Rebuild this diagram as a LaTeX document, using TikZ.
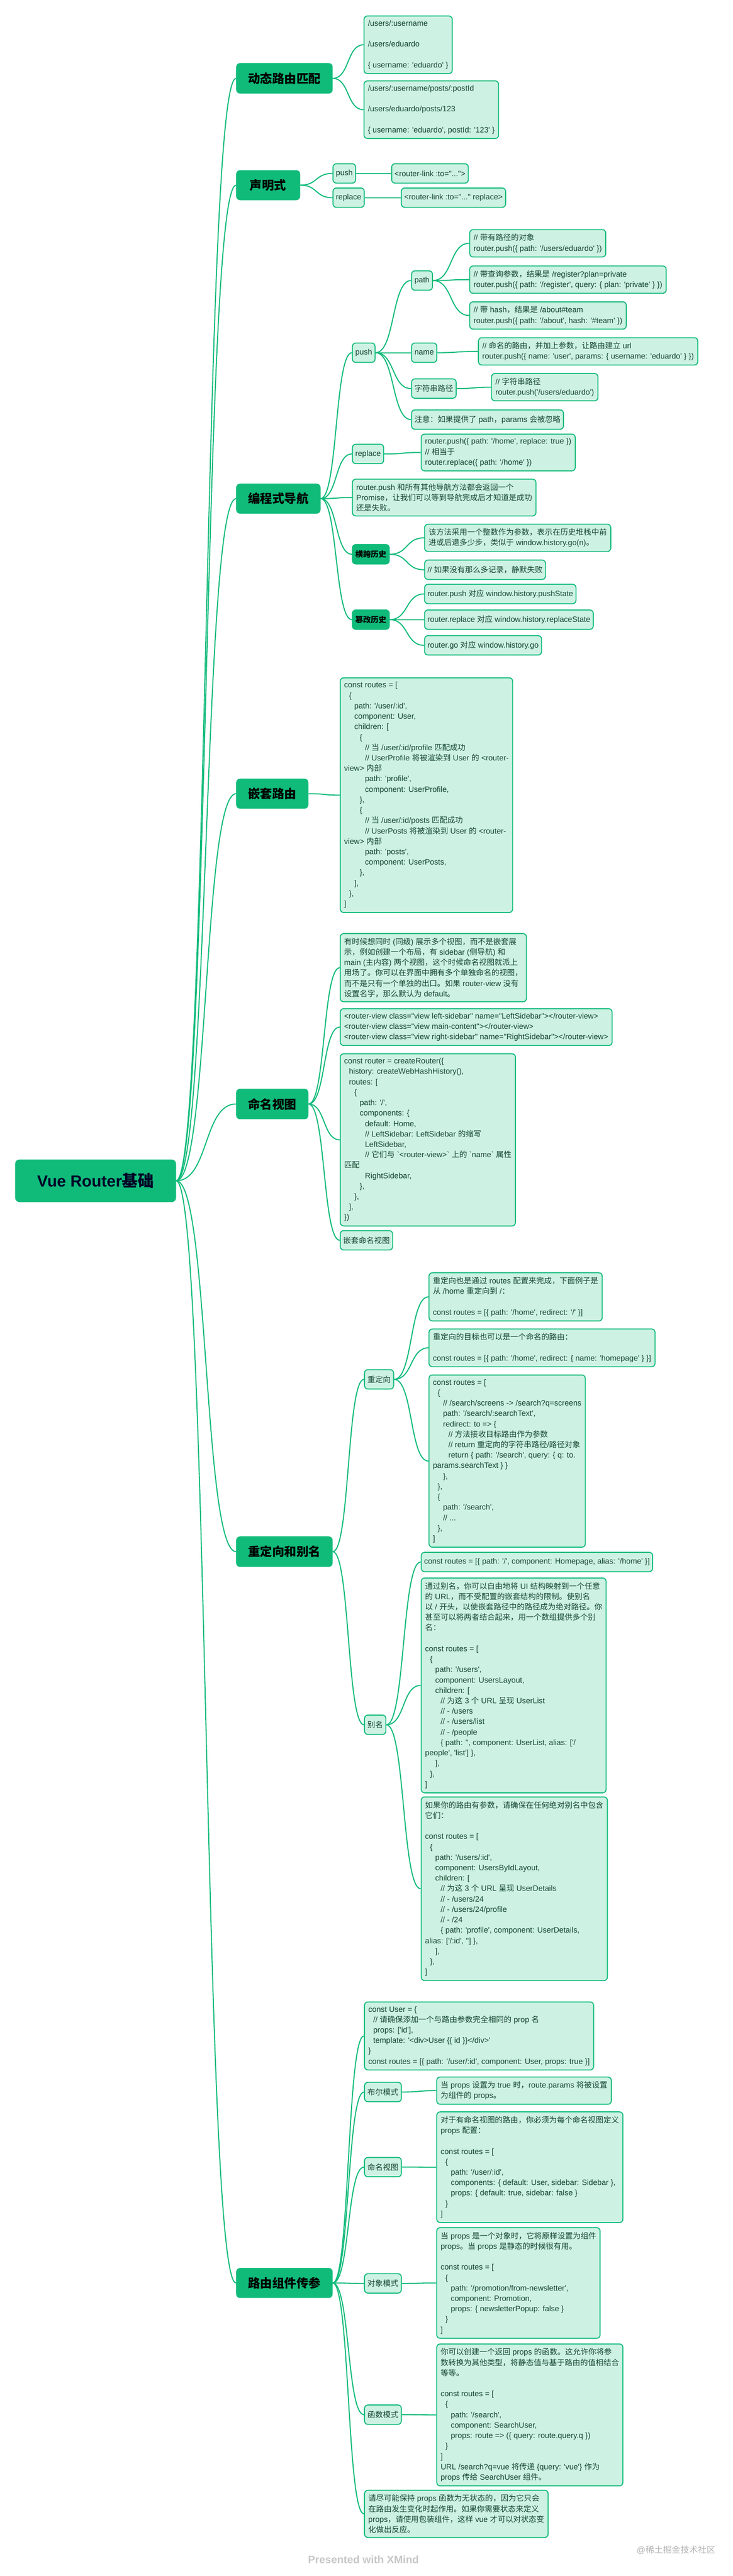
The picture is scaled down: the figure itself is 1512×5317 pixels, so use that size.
\documentclass[tikz,border=0pt]{standalone}
\usepackage{fontspec}
\setmainfont{Liberation Sans}[Ligatures=TeXOff]
\newfontfamily\latinf{Liberation Sans}[Ligatures=TeXOff]
\newfontfamily\cjkf{Noto Sans CJK SC}[Scale=1.0]
\usetikzlibrary{calc}
\XeTeXinterchartokenstate=1
\newXeTeXintercharclass\CJKcls
\newcount\mycnt
\newcommand\setcjkrange[2]{\mycnt=#1\relax\loop\XeTeXcharclass\mycnt=\CJKcls\relax\ifnum\mycnt<#2\relax\advance\mycnt by 1\relax\repeat}
\setcjkrange{"4E00}{"9FFF}
\setcjkrange{"3000}{"303F}
\setcjkrange{"FF00}{"FFEF}
\XeTeXinterchartoks 0 \CJKcls = {\cjkf}
\XeTeXinterchartoks 4095 \CJKcls = {\cjkf}
\XeTeXinterchartoks \CJKcls 0 = {\latinf}
\XeTeXinterchartoks \CJKcls 4095 = {\latinf}
\definecolor{mgreen}{HTML}{10BB7A}
\definecolor{lgreen}{HTML}{CDF2E3}
\definecolor{tgreen}{HTML}{15452F}
\newcommand\I[1]{\hspace*{#1pt}}
\newcommand\conn[2]{\draw[edge] let \p1=(#1.east),\p2=(#2.west),\n1={0.55*(\x2-\x1)} in (\p1) .. controls +(\n1,0) and +(-\n1,0) .. (\p2);}
\begin{document}
\begin{tikzpicture}[x=1pt,y=-1pt,
  edge/.style={draw=mgreen,line width=2.2pt},
  root/.style={fill=mgreen,rounded corners=9pt,anchor=north west,text=black!85!blue,font=\fontsize{33}{38}\selectfont\bfseries},
  main/.style={fill=mgreen,rounded corners=8pt,anchor=north west,text=black,font=\fontsize{25}{28}\selectfont\bfseries},
  sub/.style={fill=mgreen,draw=mgreen,line width=2pt,rounded corners=7pt,anchor=north west,text=black,minimum height=40pt,inner xsep=6pt,font=\fontsize{16}{21.5}\selectfont\bfseries},
  box/.style={fill=lgreen,draw=mgreen,line width=2pt,rounded corners=7pt,anchor=north west,align=left,text=tgreen,inner xsep=8pt,inner ysep=9pt,font=\fontsize{16}{21.5}\selectfont},
  lab/.style={box,minimum height=40pt,inner xsep=6pt,inner ysep=4pt}]
\useasboundingbox (0,0) rectangle (1512,5317);
\fill[white] (0,0) rectangle (1512,5317);

\node[root,minimum width=332pt,minimum height=88pt] (root) at (31,2393) {Vue Router基础};

\node[main,minimum width=199pt,minimum height=63pt] (m1) at (487,130) {动态路由匹配};
\node[main,minimum width=132pt,minimum height=62pt] (m2) at (487,351) {声明式};
\node[main,minimum width=174pt,minimum height=62pt] (m3) at (487,998) {编程式导航};
\node[main,minimum width=149pt,minimum height=62pt] (m4) at (487,1607) {嵌套路由};
\node[main,minimum width=149pt,minimum height=63pt] (m5) at (487,2247) {命名视图};
\node[main,minimum width=199pt,minimum height=63pt] (m6) at (487,3171) {重定向和别名};
\node[main,minimum width=199pt,minimum height=62pt] (m7) at (487,4681) {路由组件传参};
\foreach \m in {m1,m2,m3,m4,m5,m6,m7} {\conn{root}{\m}}

% 动态路由匹配
\node[box] (d1) at (750,32) {/users/:username\\~\\/users/eduardo\\~\\\{ username: 'eduardo' \}};
\node[box] (d2) at (750,166) {/users/:username/posts/:postId\\~\\/users/eduardo/posts/123\\~\\\{ username: 'eduardo', postId: '123' \}};
\conn{m1}{d1}\conn{m1}{d2}

% 声明式
\node[lab] (sp) at (686,337) {push};
\node[lab] (spb) at (807,337) {<router-link :to="...">};
\node[lab] (sr) at (686,387) {replace};
\node[lab] (srb) at (827,387) {<router-link :to="..." replace>};
\conn{m2}{sp}\conn{m2}{sr}\conn{sp}{spb}\conn{sr}{srb}

% 编程式导航
\node[lab] (pp) at (726,707) {push};
\node[lab] (ppath) at (848,558) {path};
\node[box] (pb1) at (968,473) {// 带有路径的对象\\router.push(\{ path: '/users/eduardo' \})};
\node[box] (pb2) at (968,548) {// 带查询参数，结果是 /register?plan=private\\router.push(\{ path: '/register', query: \{ plan: 'private' \} \})};
\node[box] (pb3) at (968,622) {// 带 hash，结果是 /about\#team\\router.push(\{ path: '/about', hash: '\#team' \})};
\node[lab] (pname) at (848,707) {name};
\node[box] (pnb) at (986,696) {// 命名的路由，并加上参数，让路由建立 url\\router.push(\{ name: 'user', params: \{ username: 'eduardo' \} \})};
\node[lab] (pstr) at (848,781) {字符串路径};
\node[box] (psb) at (1013,770) {// 字符串路径\\router.push('/users/eduardo')};
\node[lab] (pnote) at (848,845) {注意：如果提供了 path，params 会被忽略};
\node[lab] (prep) at (726,916) {replace};
\node[box] (prb) at (868,895) {router.push(\{ path: '/home', replace: true \})\\// 相当于\\router.replace(\{ path: '/home' \})};
\node[box] (ppro) at (726,988) {router.push 和所有其他导航方法都会返回一个\\Promise，让我们可以等到导航完成后才知道是成功\\还是失败。};
\node[sub] (pgo) at (726,1123) {横跨历史};
\node[box] (pgb1) at (875,1081) {该方法采用一个整数作为参数，表示在历史堆栈中前\\进或后退多少步，类似于 window.history.go(n)。};
\node[lab] (pgb2) at (875,1155) {// 如果没有那么多记录，静默失败};
\node[sub] (pt) at (726,1258) {篡改历史};
\node[lab] (ptb1) at (875,1205) {router.push 对应 window.history.pushState};
\node[lab] (ptb2) at (875,1258) {router.replace 对应 window.history.replaceState};
\node[lab] (ptb3) at (875,1311) {router.go 对应 window.history.go};
\foreach \c in {pp,prep,ppro,pgo,pt} {\conn{m3}{\c}}
\foreach \c in {ppath,pname,pstr,pnote} {\conn{pp}{\c}}
\foreach \c in {pb1,pb2,pb3} {\conn{ppath}{\c}}
\conn{pname}{pnb}\conn{pstr}{psb}\conn{prep}{prb}
\conn{pgo}{pgb1}\conn{pgo}{pgb2}
\foreach \c in {ptb1,ptb2,ptb3} {\conn{pt}{\c}}

% 嵌套路由
\node[box] (nb) at (701,1398) {const routes = [\\\I{10}\{\\\I{21}path: '/user/:id',\\\I{21}component: User,\\\I{21}children: [\\\I{32}\{\\\I{43}// 当 /user/:id/profile 匹配成功\\\I{43}// UserProfile 将被渲染到 User 的 <router-\\view> 内部\\\I{43}path: 'profile',\\\I{43}component: UserProfile,\\\I{32}\},\\\I{32}\{\\\I{43}// 当 /user/:id/posts 匹配成功\\\I{43}// UserPosts 将被渲染到 User 的 <router-\\view> 内部\\\I{43}path: 'posts',\\\I{43}component: UserPosts,\\\I{32}\},\\\I{21}],\\\I{10}\},\\]};
\conn{m4}{nb}

% 命名视图
\node[box] (nv1) at (701,1926) {有时候想同时 (同级) 展示多个视图，而不是嵌套展\\示，例如创建一个布局，有 sidebar (侧导航) 和\\main (主内容) 两个视图，这个时候命名视图就派上\\用场了。你可以在界面中拥有多个单独命名的视图，\\而不是只有一个单独的出口。如果 router-view 没有\\设置名字，那么默认为 default。};
\node[box] (nv2) at (701,2081) {<router-view class="view left-sidebar" name="LeftSidebar"></router-view>\\<router-view class="view main-content"></router-view>\\<router-view class="view right-sidebar" name="RightSidebar"></router-view>};
\node[box] (nv3) at (701,2174) {const router = createRouter(\{\\\I{10}history: createWebHashHistory(),\\\I{10}routes: [\\\I{21}\{\\\I{32}path: '/',\\\I{32}components: \{\\\I{43}default: Home,\\\I{43}// LeftSidebar: LeftSidebar 的缩写\\\I{43}LeftSidebar,\\\I{43}// 它们与 `<router-view>` 上的 `name` 属性\\匹配\\\I{43}RightSidebar,\\\I{32}\},\\\I{21}\},\\\I{10}],\\\})};
\node[lab] (nv4) at (701,2539) {嵌套命名视图};
\foreach \c in {nv1,nv2,nv3,nv4} {\conn{m5}{\c}}

% 重定向和别名
\node[lab] (rl) at (751,2826) {重定向};
\node[box] (rb1) at (884,2626) {重定向也是通过 routes 配置来完成，下面例子是\\从 /home 重定向到 /：\\~\\const routes = [\{ path: '/home', redirect: '/' \}]};
\node[box] (rb2) at (884,2742) {重定向的目标也可以是一个命名的路由：\\~\\const routes = [\{ path: '/home', redirect: \{ name: 'homepage' \} \}]};
\node[box] (rb3) at (884,2837) {const routes = [\\\I{10}\{\\\I{21}// /search/screens -> /search?q=screens\\\I{21}path: '/search/:searchText',\\\I{21}redirect: to => \{\\\I{32}// 方法接收目标路由作为参数\\\I{32}// return 重定向的字符串路径/路径对象\\\I{32}return \{ path: '/search', query: \{ q: to.\\params.searchText \} \}\\\I{21}\},\\\I{10}\},\\\I{10}\{\\\I{21}path: '/search',\\\I{21}// ...\\\I{10}\},\\]};
\node[lab] (al) at (751,3539) {别名};
\node[lab] (ab1) at (868,3203) {const routes = [\{ path: '/', component: Homepage, alias: '/home' \}]};
\node[box] (ab2) at (868,3256) {通过别名，你可以自由地将 UI 结构映射到一个任意\\的 URL，而不受配置的嵌套结构的限制。使别名\\以 / 开头，以使嵌套路径中的路径成为绝对路径。你\\甚至可以将两者结合起来，用一个数组提供多个别\\名：\\~\\const routes = [\\\I{10}\{\\\I{21}path: '/users',\\\I{21}component: UsersLayout,\\\I{21}children: [\\\I{32}// 为这 3 个 URL 呈现 UserList\\\I{32}// - /users\\\I{32}// - /users/list\\\I{32}// - /people\\\I{32}\{ path: '', component: UserList, alias: ['/\\people', 'list'] \},\\\I{21}],\\\I{10}\},\\]};
\node[box] (ab3) at (868,3708) {如果你的路由有参数，请确保在任何绝对别名中包含\\它们：\\~\\const routes = [\\\I{10}\{\\\I{21}path: '/users/:id',\\\I{21}component: UsersByIdLayout,\\\I{21}children: [\\\I{32}// 为这 3 个 URL 呈现 UserDetails\\\I{32}// - /users/24\\\I{32}// - /users/24/profile\\\I{32}// - /24\\\I{32}\{ path: 'profile', component: UserDetails,\\alias: ['/:id', ''] \},\\\I{21}],\\\I{10}\},\\]};
\conn{m6}{rl}\conn{m6}{al}
\foreach \c in {rb1,rb2,rb3} {\conn{rl}{\c}}
\foreach \c in {ab1,ab2,ab3} {\conn{al}{\c}}

% 路由组件传参
\node[box] (q1) at (751,4131) {const User = \{\\\I{10}// 请确保添加一个与路由参数完全相同的 prop 名\\\I{10}props: ['id'],\\\I{10}template: '<div>User \{\{ id \}\}</div>'\\\}\\const routes = [\{ path: '/user/:id', component: User, props: true \}]};
\node[lab] (qb) at (751,4297) {布尔模式};
\node[box] (qbb) at (900,4286) {当 props 设置为 true 时，route.params 将被设置\\为组件的 props。};
\node[lab] (qn) at (751,4452) {命名视图};
\node[box] (qnb) at (900,4358) {对于有命名视图的路由，你必须为每个命名视图定义\\props 配置：\\~\\const routes = [\\\I{10}\{\\\I{21}path: '/user/:id',\\\I{21}components: \{ default: User, sidebar: Sidebar \},\\\I{21}props: \{ default: true, sidebar: false \}\\\I{10}\}\\]};
\node[lab] (qo) at (751,4692) {对象模式};
\node[box] (qob) at (900,4597) {当 props 是一个对象时，它将原样设置为组件\\props。当 props 是静态的时候很有用。\\~\\const routes = [\\\I{10}\{\\\I{21}path: '/promotion/from-newsletter',\\\I{21}component: Promotion,\\\I{21}props: \{ newsletterPopup: false \}\\\I{10}\}\\]};
\node[lab] (qf) at (751,4963) {函数模式};
\node[box] (qfb) at (900,4837) {你可以创建一个返回 props 的函数。这允许你将参\\数转换为其他类型，将静态值与基于路由的值相结合\\等等。\\~\\const routes = [\\\I{10}\{\\\I{21}path: '/search',\\\I{21}component: SearchUser,\\\I{21}props: route => (\{ query: route.query.q \})\\\I{10}\}\\]\\URL /search?q=vue 将传递 \{query: 'vue'\} 作为\\props 传给 SearchUser 组件。};
\node[box] (qnote) at (751,5139) {请尽可能保持 props 函数为无状态的，因为它只会\\在路由发生变化时起作用。如果你需要状态来定义\\props，请使用包装组件，这样 vue 才可以对状态变\\化做出反应。};
\foreach \c in {q1,qb,qn,qo,qf,qnote} {\conn{m7}{\c}}
\conn{qb}{qbb}\conn{qn}{qnb}\conn{qo}{qob}\conn{qf}{qfb}

\node[anchor=west,text=black!22,font=\fontsize{22}{26}\selectfont\bfseries] (xm) at (632,5283) {Presented with XMind};
\node[anchor=west,text=black!30,font=\fontsize{18}{22}\selectfont] (wm) at (1310,5263) {@稀土掘金技术社区};
\end{tikzpicture}
\end{document}
